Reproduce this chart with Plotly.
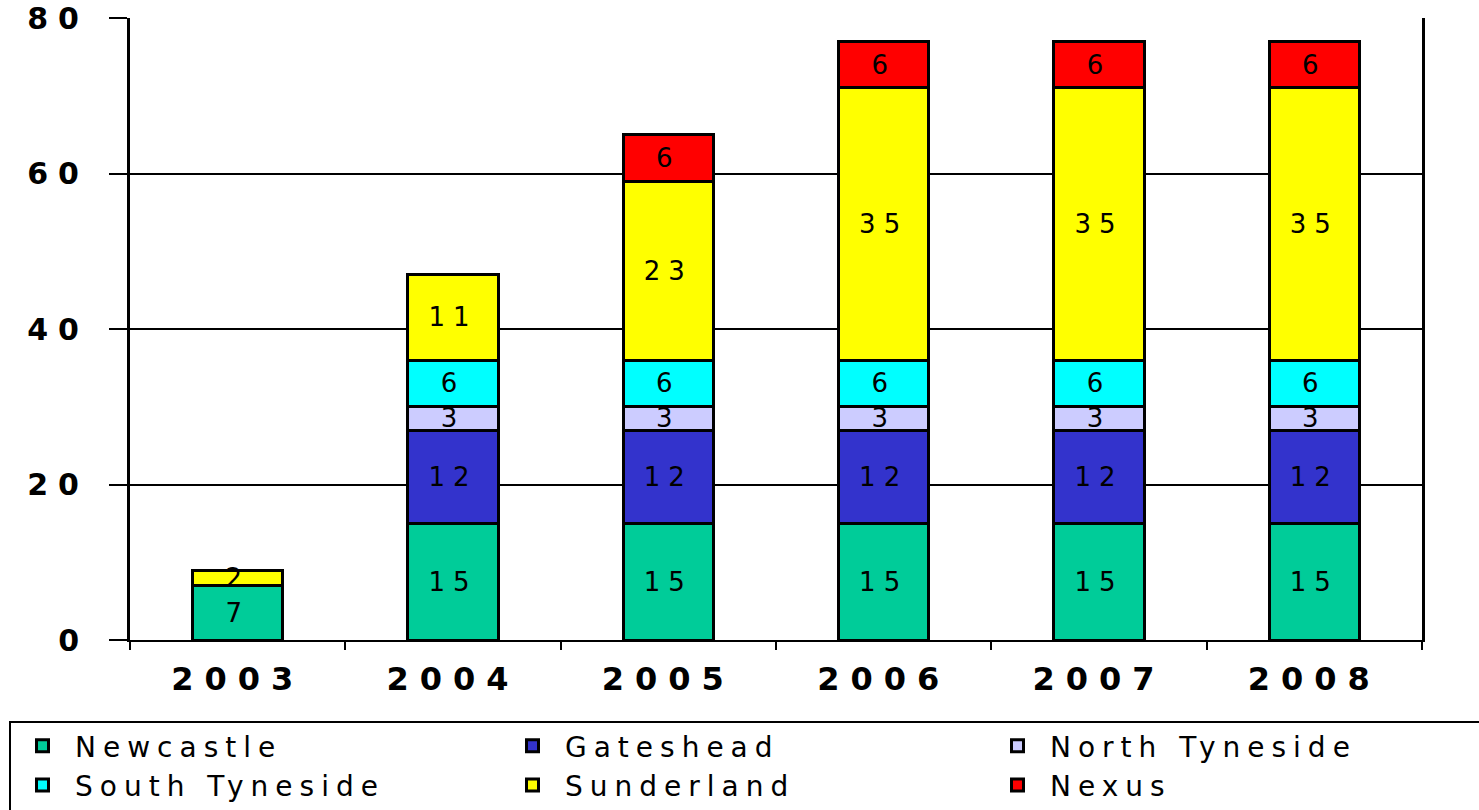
import plotly.graph_objects as go

years = ["2003", "2004", "2005", "2006", "2007", "2008"]

newcastle = [7, 15, 15, 15, 15, 15]
gateshead = [None, 12, 12, 12, 12, 12]
north_tyneside = [None, 3, 3, 3, 3, 3]
south_tyneside = [None, 6, 6, 6, 6, 6]
sunderland = [2, 11, 23, 35, 35, 35]
nexus = [None, None, 6, 6, 6, 6]

# (name, values, colour, legend column)
series = [
    ("Newcastle", newcastle, "#00CC99", "legend"),
    ("Gateshead", gateshead, "#3333CC", "legend2"),
    ("North Tyneside", north_tyneside, "#CCCCFF", "legend3"),
    ("South Tyneside", south_tyneside, "#00FFFF", "legend"),
    ("Sunderland", sunderland, "#FFFF00", "legend2"),
    ("Nexus", nexus, "#FF0000", "legend3"),
]

y_ticks = [0, 20, 40, 60, 80]

W, H = 1479, 810
L, R, T, B = 130, 57, 18, 170
PW, PH = W - L - R, H - T - B


def spaced(text, px):
    return f'<span style="letter-spacing:{px}px">{text}</span>'


def px_x(x):
    return (x - L) / PW


def px_y(y):
    return (H - B - y) / PH


fig = go.Figure()
for name, values, color, leg in series:
    fig.add_trace(go.Bar(
        x=years,
        y=values,
        name=spaced(name, 7),
        legend=leg,
        legendgroup=name,
        marker=dict(color=color, line=dict(color="black", width=3)),
        texttemplate=spaced("%{y}", 8),
        textposition="inside",
        insidetextanchor="middle",
        textangle=0,
        textfont=dict(family="DejaVu Sans", size=26, color="black"),
        hoverinfo="skip",
    ))

legend_style = dict(
    orientation="v",
    xanchor="left",
    yanchor="top",
    y=px_y(721),
    bgcolor="rgba(0,0,0,0)",
    borderwidth=0,
    tracegroupgap=8,
    itemwidth=55,
    font=dict(family="DejaVu Sans", size=28, color="black"),
    traceorder="normal",
)

fig.update_layout(
    barmode="stack",
    bargap=0.58,
    width=W,
    height=H,
    margin=dict(l=L, r=R, t=T, b=B, autoexpand=False),
    paper_bgcolor="white",
    plot_bgcolor="white",
    uniformtext=dict(minsize=26, mode="show"),
    showlegend=True,
    legend=dict(legend_style, x=px_x(10)),
    legend2=dict(legend_style, x=px_x(500)),
    legend3=dict(legend_style, x=px_x(985)),
    shapes=[dict(
        type="rect", xref="paper", yref="paper",
        x0=px_x(10), x1=px_x(W + 6), y0=px_y(722), y1=px_y(H + 6),
        line=dict(color="black", width=2), fillcolor="rgba(0,0,0,0)",
        layer="below",
    )],
)

fig.update_xaxes(
    type="category",
    showline=True,
    linecolor="black",
    linewidth=2,
    ticks="outside",
    tickson="boundaries",
    ticklen=8,
    tickwidth=2,
    tickcolor="black",
    tickvals=years,
    ticktext=[spaced(f"<b>{y}</b>", 11) for y in years],
    tickfont=dict(family="DejaVu Sans", size=32, color="black"),
    ticklabelstandoff=10,
    showgrid=False,
)

fig.update_yaxes(
    range=[0, 80],
    tickvals=y_ticks,
    ticktext=[spaced(f"<b>{v}</b>", 10) for v in y_ticks],
    tickfont=dict(family="DejaVu Sans", size=30, color="black"),
    ticklabeloverflow="allow",
    showline=True,
    linecolor="black",
    linewidth=3,
    mirror=True,
    ticks="outside",
    ticklen=18,
    tickwidth=2,
    tickcolor="black",
    ticklabelstandoff=14,
    showgrid=True,
    gridcolor="black",
    gridwidth=1.5,
    zeroline=False,
)

fig.write_html("out.html")
